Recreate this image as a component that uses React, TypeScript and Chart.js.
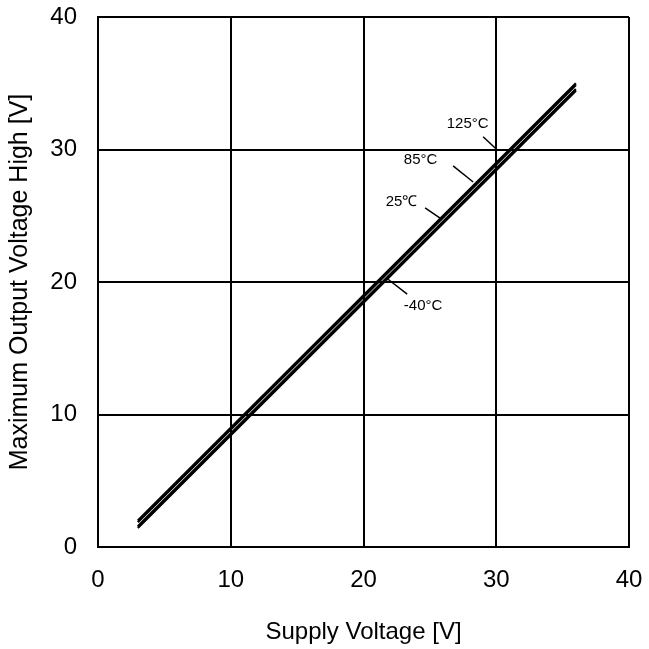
import { useEffect, useRef } from "react";
import { Chart, registerables } from "chart.js";

Chart.register(...registerables);

const supplyVoltage = [3, 10, 20, 30, 36];
const out125 = [2.0, 9.0, 19.0, 29.0, 35.0];
const out85 = [1.88, 8.88, 18.88, 28.88, 34.88];
const out25 = [1.56, 8.56, 18.56, 28.56, 34.56];
const outM40 = [1.43, 8.43, 18.43, 28.43, 34.43];
const seriesNames = ["125°C", "85°C", "25℃", "-40°C"];

const xTicks = [0, 10, 20, 30, 40];
const yTicks = [0, 10, 20, 30, 40];

// annotation labels (data coordinates)
const labelX = [27.85, 24.3, 22.87, 24.49];
const labelY = [31.95, 29.2, 26.04, 18.17];
const leaderFromX = [29.01, 26.75, 24.64, 21.85];
const leaderFromY = [30.96, 28.77, 25.59, 20.21];
const leaderToX = [30.14, 28.26, 25.77, 23.29];
const leaderToY = [29.9, 27.55, 24.83, 19.08];

const FONT = "'Liberation Sans', Arial, Helvetica, sans-serif";

// target plot frame inside the 649x649 canvas
const FRAME = { left: 98, top: 17, right: 629, bottom: 547 };

const annotationPlugin = {
  id: "tempLabels",
  afterDatasetsDraw(chart: any) {
    const { ctx } = chart;
    const xs = chart.scales.x;
    const ys = chart.scales.y;
    ctx.save();
    ctx.strokeStyle = "#000";
    ctx.lineWidth = 1.5;
    for (let i = 0; i < seriesNames.length; i++) {
      ctx.beginPath();
      ctx.moveTo(xs.getPixelForValue(leaderFromX[i]), ys.getPixelForValue(leaderFromY[i]));
      ctx.lineTo(xs.getPixelForValue(leaderToX[i]), ys.getPixelForValue(leaderToY[i]));
      ctx.stroke();
    }
    ctx.fillStyle = "#000";
    ctx.font = `15px ${FONT}`;
    ctx.textAlign = "center";
    ctx.textBaseline = "middle";
    for (let i = 0; i < seriesNames.length; i++) {
      ctx.fillText(seriesNames[i], xs.getPixelForValue(labelX[i]), ys.getPixelForValue(labelY[i]));
    }
    ctx.restore();
  },
};

const zeroPads = (scale: any) => {
  scale.paddingTop = 0;
  scale.paddingBottom = 0;
  scale.paddingLeft = 0;
  scale.paddingRight = 0;
};

export default function App() {
  const canvasRef = useRef<HTMLCanvasElement | null>(null);

  useEffect(() => {
    if (!canvasRef.current) return;
    const seriesValues = [out125, out85, out25, outM40];
    const chart = new Chart(canvasRef.current, {
      type: "line",
      data: {
        datasets: seriesValues.map((vals, i) => ({
          label: seriesNames[i],
          data: supplyVoltage.map((x, j) => ({ x, y: vals[j] })),
          borderColor: "#000",
          backgroundColor: "#000",
          borderWidth: 2.3,
          pointRadius: 0,
          tension: 0,
          fill: false,
        })),
      },
      options: {
        animation: false,
        responsive: true,
        maintainAspectRatio: false,
        layout: { padding: { left: 0, top: FRAME.top, right: 649 - FRAME.right, bottom: 0 } },
        plugins: {
          legend: { display: false },
          tooltip: { enabled: false },
        },
        scales: {
          x: {
            type: "linear",
            min: 0,
            max: 40,
            afterBuildTicks: (scale: any) => {
              scale.ticks = xTicks.map((v) => ({ value: v }));
            },
            afterFit: (scale: any) => {
              scale.height = 649 - FRAME.bottom;
              zeroPads(scale);
            },
            grid: { color: "#000", lineWidth: 2, drawTicks: false },
            border: { display: true, color: "#000", width: 2 },
            ticks: {
              color: "#000",
              padding: 19,
              font: { family: FONT, size: 24 },
            },
            title: {
              display: true,
              text: "Supply Voltage [V]",
              color: "#000",
              font: { family: FONT, size: 24 },
              padding: { top: 0, bottom: 2 },
            },
          },
          y: {
            type: "linear",
            min: 0,
            max: 40,
            afterBuildTicks: (scale: any) => {
              scale.ticks = yTicks.map((v) => ({ value: v }));
            },
            afterFit: (scale: any) => {
              scale.width = FRAME.left;
              zeroPads(scale);
            },
            grid: { color: "#000", lineWidth: 2, drawTicks: false },
            border: { display: true, color: "#000", width: 2 },
            ticks: {
              color: "#000",
              padding: 21,
              font: { family: FONT, size: 24 },
            },
            title: {
              display: true,
              text: "Maximum Output Voltage High [V]",
              color: "#000",
              font: { family: FONT, size: 25 },
              padding: { top: 5, bottom: 0 },
            },
          },
        },
      } as any,
      plugins: [annotationPlugin],
    });

    return () => chart.destroy();
  }, []);

  return (
    <div
      style={{
        position: "fixed",
        left: 0,
        top: 0,
        width: 649,
        height: 649,
        background: "#fff",
      }}
    >
      <canvas ref={canvasRef} />
    </div>
  );
}
